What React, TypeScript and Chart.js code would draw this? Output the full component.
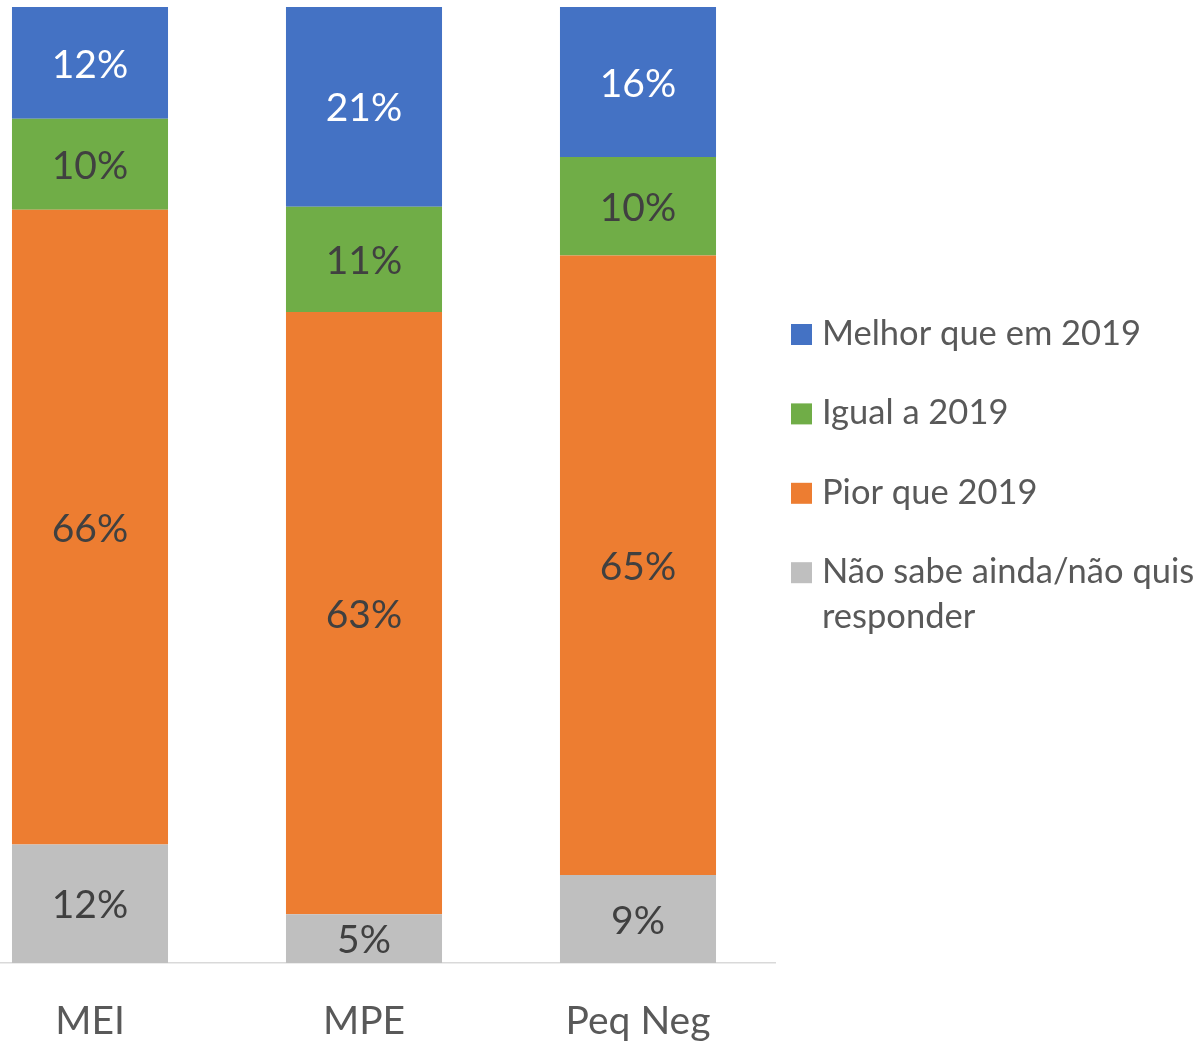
import React, { useEffect, useRef } from "react";
import { Chart, registerables } from "chart.js";

Chart.register(...registerables);

const categories = ["MEI", "MPE", "Peq Neg"];
const seriesNames = [
  "Não sabe ainda/não quis responder",
  "Pior que 2019",
  "Igual a 2019",
  "Melhor que em 2019",
];
const naoSabe = [12.4, 5.1, 9.2];
const pior = [66.4, 63.0, 64.8];
const igual = [9.5, 11.0, 10.3];
const melhor = [11.7, 20.9, 15.7];

const colors = ["#BFBFBF", "#ED7D31", "#70AD47", "#4472C4"];
const labelColors = ["#404040", "#404040", "#404040", "#FFFFFF"];
const FONT = "Lato, 'Open Sans', sans-serif";

const dataLabelPlugin = {
  id: "dataLabels",
  afterDatasetsDraw(chart: any) {
    const ctx = chart.ctx;
    ctx.save();
    ctx.font = `39px ${FONT}`;
    ctx.textAlign = "center";
    ctx.textBaseline = "middle";
    chart.data.datasets.forEach((ds: any, i: number) => {
      const meta = chart.getDatasetMeta(i);
      meta.data.forEach((bar: any, j: number) => {
        const { x, y, base } = bar.getProps(["x", "y", "base"], true);
        ctx.fillStyle = labelColors[i];
        ctx.fillText(`${Math.round(ds.data[j])}%`, x, (y + base) / 2 + 2);
      });
    });
    ctx.restore();
  },
};

const legendPlugin = {
  id: "sideLegend",
  afterDraw(chart: any) {
    const ctx = chart.ctx;
    ctx.save();
    ctx.font = `34.5px ${FONT}`;
    ctx.textBaseline = "alphabetic";
    ctx.textAlign = "left";
    const markerX = chart.chartArea.right + 16;
    const textX = markerX + 31;
    const maxW = chart.width - textX - 4;
    const n = chart.data.datasets.length;
    for (let k = 0; k < n; k++) {
      const dsIndex = n - 1 - k;
      const ds = chart.data.datasets[dsIndex];
      const baseline = 345 + k * 79.4;
      ctx.fillStyle = ds.backgroundColor;
      ctx.fillRect(markerX, baseline - 21, 21, 21);
      ctx.fillStyle = "#595959";
      const words = String(ds.label).split(" ");
      const lines: string[] = [];
      let cur = "";
      words.forEach((w) => {
        const test = cur ? cur + " " + w : w;
        if (ctx.measureText(test).width > maxW && cur) {
          lines.push(cur);
          cur = w;
        } else cur = test;
      });
      if (cur) lines.push(cur);
      lines.forEach((ln, li) => ctx.fillText(ln, textX, baseline + li * 45));
    }
    ctx.restore();
  },
};

export default function App() {
  const ref = useRef<HTMLCanvasElement>(null);
  useEffect(() => {
    if (!ref.current) return;
    const values = [naoSabe, pior, igual, melhor];
    const chart = new Chart(ref.current, {
      type: "bar",
      data: {
        labels: categories,
        datasets: values.map((v, i) => ({
          label: seriesNames[i],
          data: v,
          backgroundColor: colors[i],
          borderWidth: 0,
          barPercentage: 0.5695,
          categoryPercentage: 1,
        })),
      },
      options: {
        responsive: false,
        animation: false,
        events: [],
        layout: { padding: { top: 7, right: 429, left: 0, bottom: 0 } },
        plugins: {
          legend: { display: false },
          tooltip: { enabled: false },
        },
        scales: {
          x: {
            stacked: true,
            grid: { display: false },
            border: { color: "#D9D9D9", width: 1.5 },
            ticks: {
              color: "#595959",
              font: { size: 39, family: FONT },
              padding: 27,
            },
            afterFit: (scale: any) => {
              scale.height = 78;
            },
          },
          y: {
            display: false,
            stacked: true,
            min: 0,
            max: 100,
          },
        },
      },
      plugins: [dataLabelPlugin, legendPlugin],
    });
    return () => chart.destroy();
  }, []);
  return (
    <div style={{ position: "absolute", left: -47, top: 0, width: 1251, height: 1041 }}>
      <canvas ref={ref} width={1251} height={1041} />
    </div>
  );
}
